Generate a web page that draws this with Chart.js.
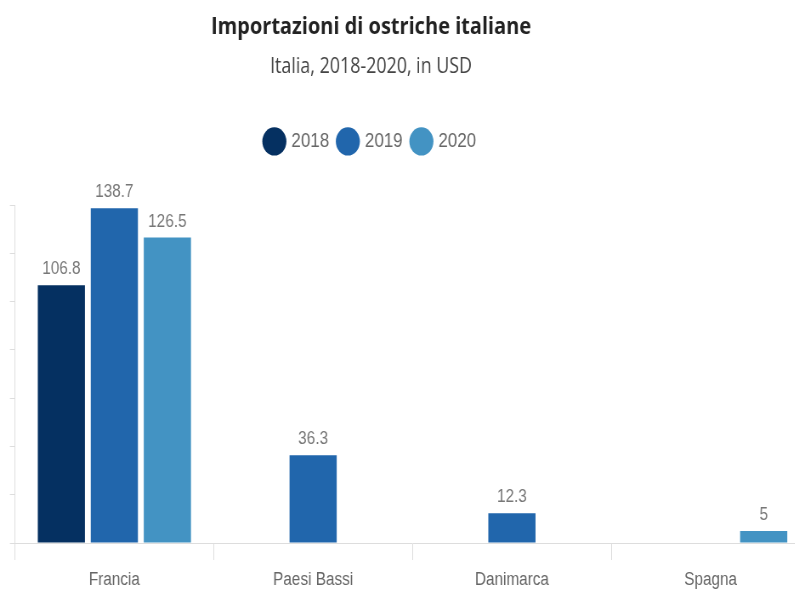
<!DOCTYPE html>
<html>
<head>
<meta charset="utf-8">
<script src="https://cdn.jsdelivr.net/npm/chart.js@4/dist/chart.umd.min.js"></script>
<style>
  html, body { margin: 0; padding: 0; background: #ffffff; overflow: hidden; }
  #wrap { width: 795px; height: 590px; overflow: hidden; position: relative; }
  #chart { position: absolute; left: 0; top: 0; transform: scaleX(0.85); transform-origin: 0 0; }
</style>
</head>
<body>
<div id="wrap"><canvas id="chart" width="955" height="590"></canvas></div>
<script>
// Countries of origin and yearly import values (USD)
const categories = ['Francia', 'Paesi Bassi', 'Danimarca', 'Spagna'];
const years = ['2018', '2019', '2020'];
const values2018 = [106.8, null, null, null];
const values2019 = [138.7, 36.3, 12.3, null];
const values2020 = [126.5, null, null, 5];
const yMax = 140;
const yStep = 20;

const seriesColors = ['#053061', '#2166ac', '#4393c3'];
const labelFont = '"Liberation Sans", Arial, sans-serif';
const headerFont = '"Open Sans", sans-serif';
const HEADER_WIDTH = 873;

// Value labels above each bar
const valueLabels = {
  id: 'valueLabels',
  afterDatasetsDraw(chart) {
    const ctx = chart.ctx;
    ctx.save();
    ctx.font = '18px ' + labelFont;
    ctx.fillStyle = '#777777';
    ctx.textAlign = 'center';
    ctx.textBaseline = 'alphabetic';
    chart.data.datasets.forEach((ds, i) => {
      const meta = chart.getDatasetMeta(i);
      meta.data.forEach((bar, j) => {
        const v = ds.data[j];
        if (v === null || v === undefined) return;
        ctx.fillText(String(v), bar.x, bar.y - 11);
      });
    });
    ctx.restore();
  }
};

// Keep title, subtitle and legend centred over the visible header width
const headerCentering = {
  id: 'headerCentering',
  afterLayout(chart) {
    chart.boxes.forEach(b => {
      if (b.position === 'top' && !(b instanceof Chart.Scale)) {
        b.left = 0;
        b.right = HEADER_WIDTH;
        b.width = HEADER_WIDTH;
      }
    });
  }
};

const datasets = [values2018, values2019, values2020].map((vals, i) => ({
  label: years[i],
  data: vals,
  backgroundColor: seriesColors[i],
  borderWidth: 0,
  categoryPercentage: 0.8,
  barPercentage: 0.89
}));

new Chart(document.getElementById('chart'), {
  type: 'bar',
  data: { labels: categories, datasets },
  plugins: [valueLabels, headerCentering],
  options: {
    responsive: false,
    animation: false,
    layout: { padding: { left: 11.6, right: 2, top: 0, bottom: 0 } },
    plugins: {
      title: {
        display: true,
        text: 'Importazioni di ostriche italiane',
        color: '#222222',
        font: { family: headerFont, weight: 'bold', size: 23.5 },
        padding: { top: 13, bottom: 13 }
      },
      subtitle: {
        display: true,
        text: 'Italia, 2018-2020, in USD',
        color: '#444444',
        font: { family: headerFont, size: 21 },
        padding: { top: 0, bottom: 40 }
      },
      legend: {
        display: true,
        position: 'top',
        labels: {
          usePointStyle: true,
          pointStyle: 'circle',
          boxWidth: 20,
          boxHeight: 20,
          color: '#666666',
          font: { family: labelFont, size: 20 },
          padding: 12
        }
      },
      tooltip: { enabled: false }
    },
    scales: {
      headerGap: {
        type: 'category',
        axis: 'x',
        labels: categories,
        position: 'top',
        grid: { display: false },
        border: { display: false },
        ticks: { display: false },
        afterFit(scale) { scale.height = 43.6; }
      },
      x: {
        grid: { drawOnChartArea: false, tickLength: 17, color: '#dddddd', offset: true },
        border: { color: '#dddddd' },
        ticks: { color: '#666666', font: { family: labelFont, size: 18 }, padding: 9 },
        afterFit(scale) { scale.height = 47; }
      },
      y: {
        min: 0,
        max: yMax,
        ticks: { stepSize: yStep, display: false },
        grid: { drawOnChartArea: false, tickLength: 6, color: '#dddddd' },
        border: { color: '#dddddd' }
      }
    }
  }
});
</script>
</body>
</html>
